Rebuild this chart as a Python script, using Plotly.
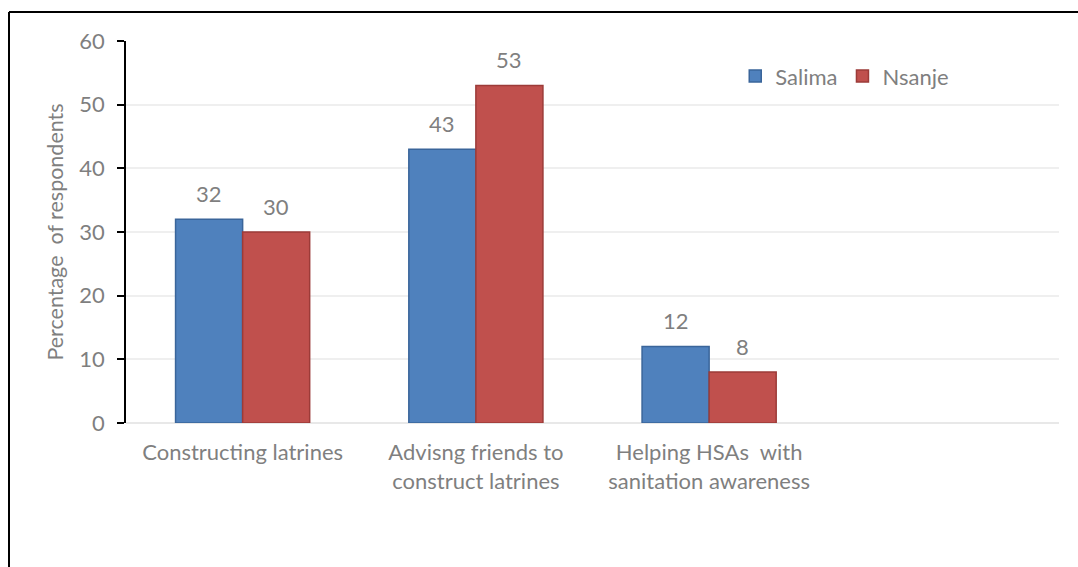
import plotly.graph_objects as go

categories = ["Constructing latrines", "Advisng friends to<br>construct latrines",
              "Helping HSAs  with<br>sanitation awareness", ""]
cat_keys = ["c1", "c2", "c3", "c4"]
salima = [32, 43, 12, None]
nsanje = [30, 53, 8, None]
y_ticks = [0, 10, 20, 30, 40, 50, 60]

FONT = "Lato, 'Open Sans', sans-serif"
GRAY = "#7f7f7f"

fig = go.Figure()
fig.add_trace(go.Bar(
    name="Salima", x=cat_keys, y=salima,
    marker=dict(color="#4F81BD", line=dict(color="#3A659A", width=1.5)),
))
fig.add_trace(go.Bar(
    name="Nsanje", x=cat_keys, y=nsanje,
    marker=dict(color="#C0504D", line=dict(color="#9C3B38", width=1.5)),
))

# data labels above bars
half_bar_px = 33.5
for vals, shift in ((salima, -half_bar_px), (nsanje, half_bar_px)):
    for k, v in zip(cat_keys, vals):
        if v is None:
            continue
        fig.add_annotation(x=k, y=v, xref="x", yref="y", text=str(v), showarrow=False,
                           xshift=shift, yshift=26, yanchor="middle",
                           font=dict(family=FONT, size=22, color=GRAY))

fig.update_layout(
    width=1078, height=567,
    margin=dict(l=126, r=19, t=41, b=144),
    paper_bgcolor="white", plot_bgcolor="white",
    barmode="group", bargap=0.425, bargroupgap=0,
    font=dict(family=FONT, color=GRAY),
    showlegend=True,
    legend=dict(orientation="h", x=0.653, y=0.908, xanchor="left", yanchor="middle",
                font=dict(family=FONT, size=22, color=GRAY),
                itemwidth=30, traceorder="normal", bgcolor="rgba(0,0,0,0)"),
    xaxis=dict(
        tickmode="array", tickvals=cat_keys, ticktext=categories,
        tickfont=dict(family=FONT, size=22, color=GRAY),
        showline=False, showgrid=False, ticks="", ticklabelstandoff=14,
        range=[-0.5, 3.5],
    ),
    yaxis=dict(
        range=[0, 60], tickmode="array", tickvals=y_ticks,
        showline=True, linecolor="black", linewidth=1.5,
        ticks="outside", ticklen=7, tickcolor="black", tickwidth=1.5,
        gridcolor="#efefef", gridwidth=1.5,
        tickfont=dict(family=FONT, size=22, color=GRAY),
        ticklabelstandoff=8,
        zeroline=True, zerolinecolor="#e8e8e8", zerolinewidth=1.5,
        title=dict(text="Percentage  of respondents", font=dict(family=FONT, size=21.5, color=GRAY),
                   standoff=10),
    ),
)

# outer chart frame (only left and top edges are visible in the reference)
fig.add_shape(type="line", xref="paper", yref="paper",
              x0=-0.1254, x1=-0.1254, y0=-1.0, y1=1.0759,
              line=dict(color="black", width=2), layer="below")
fig.add_shape(type="line", xref="paper", yref="paper",
              x0=-0.1254, x1=1.2, y0=1.0759, y1=1.0759,
              line=dict(color="black", width=2), layer="below")

fig.write_html("out.html")
